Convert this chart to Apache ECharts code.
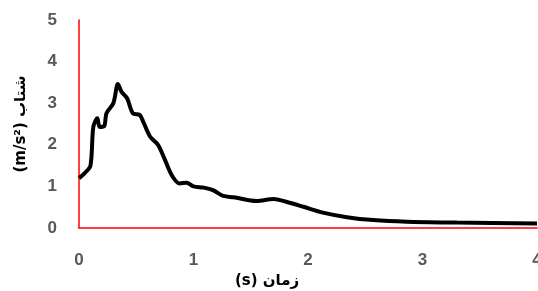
<!DOCTYPE html>
<html>
<head>
<meta charset="utf-8">
<script src="https://cdn.jsdelivr.net/npm/echarts@6/dist/echarts.min.js"></script>
<style>
  html, body { margin: 0; padding: 0; background: #fff; }
  #chart { width: 538px; height: 291px; }
</style>
</head>
<body>
<div id="chart"></div>
<script>
// زمان (s)
var timeValues = [0, 0.05, 0.1, 0.125, 0.16, 0.18, 0.22, 0.24, 0.3, 0.34, 0.37, 0.42, 0.47, 0.53, 0.56, 0.62, 0.69, 0.74, 0.81, 0.88, 0.94, 1.0, 1.09, 1.17, 1.26, 1.35, 1.55, 1.7, 1.81, 1.96, 2.13, 2.34, 2.57, 2.86, 3.3, 4.0]
// شتاب (m/s²)
var accelValues = [1.2, 1.32, 1.5, 2.43, 2.64, 2.43, 2.45, 2.76, 3.0, 3.46, 3.28, 3.12, 2.76, 2.72, 2.56, 2.2, 2.0, 1.71, 1.27, 1.07, 1.09, 1.0, 0.97, 0.91, 0.77, 0.74, 0.65, 0.7, 0.63, 0.51, 0.37, 0.26, 0.19, 0.15, 0.13, 0.11]
var xTicks = [0, 1, 2, 3, 4]
var yTicks = [0, 1, 2, 3, 4, 5]

var myChart = echarts.init(document.getElementById('chart'))

var lineData = timeValues.map(function (t, i) { return [t, accelValues[i]] })

var tickFont = {
  color: '#595959',
  fontWeight: 'bold',
  fontSize: 17,
  fontFamily: 'Liberation Sans'
}

var option = {
  animation: false,
  grid: {
    left: 79,
    right: 1,
    top: 20,
    bottom: 63,
    containLabel: false,
    outerBoundsMode: 'none'
  },
  xAxis: {
    type: 'value',
    min: xTicks[0],
    max: xTicks[xTicks.length - 1],
    interval: 1,
    name: '(s) زمان',
    nameLocation: 'middle',
    nameGap: 46,
    nameTextStyle: {
      color: '#000',
      fontWeight: 'bold',
      fontSize: 15,
      fontFamily: 'DejaVu Sans',
      padding: [0, 82, 0, 0]
    },
    splitLine: { show: false },
    axisTick: { show: false },
    axisLine: { lineStyle: { color: '#ff0000', width: 1.5 } },
    axisLabel: Object.assign({ margin: 24 }, tickFont)
  },
  yAxis: {
    type: 'value',
    min: yTicks[0],
    max: yTicks[yTicks.length - 1],
    interval: 1,
    name: '(m/s²) شتاب',
    nameLocation: 'middle',
    nameGap: 50,
    nameRotate: 90,
    nameTextStyle: {
      color: '#000',
      fontWeight: 'bold',
      fontSize: 15,
      fontFamily: 'DejaVu Sans'
    },
    splitLine: { show: false },
    axisTick: { show: false },
    axisLine: { show: true, lineStyle: { color: '#ff0000', width: 1.5 } },
    axisLabel: Object.assign({ margin: 22 }, tickFont)
  },
  series: [
    {
      type: 'line',
      data: lineData,
      smooth: 0.3,
      showSymbol: false,
      lineStyle: { color: '#000', width: 4 }
    }
  ]
}

myChart.setOption(option)
</script>
</body>
</html>
